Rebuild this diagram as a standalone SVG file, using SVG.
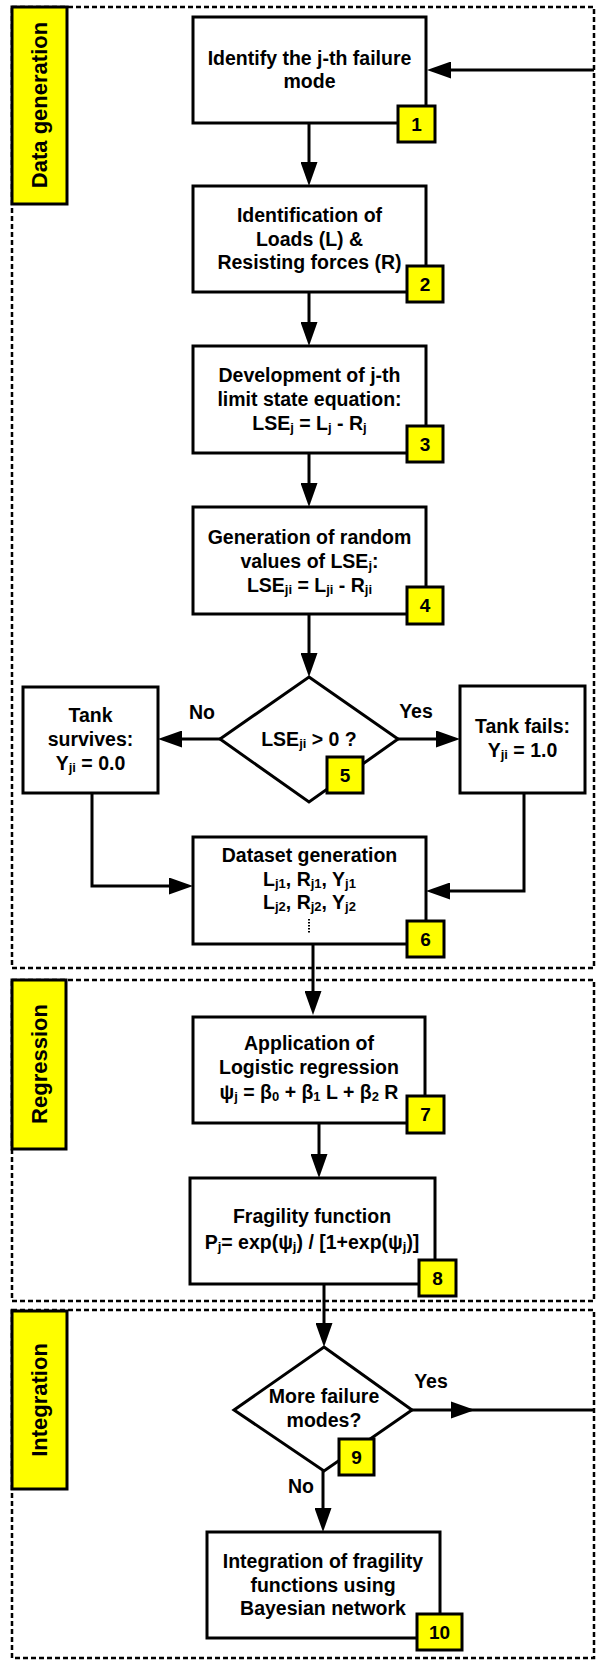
<svg xmlns="http://www.w3.org/2000/svg" width="597" height="1661" viewBox="0 0 597 1661">
<style>
.sec{fill:none;stroke:#000;stroke-width:2.5;stroke-dasharray:5 3}
.lab{fill:#ffff00;stroke:#000;stroke-width:3}
.labt{font-family:"Liberation Sans",Arial,sans-serif;font-weight:bold;font-size:22px;text-anchor:middle;fill:#000}
.box{fill:#fff;stroke:#000;stroke-width:3}
.t{font-family:"Liberation Sans",Arial,sans-serif;font-weight:bold;font-size:19.5px;text-anchor:middle;fill:#000}
.sub{font-size:13px}
.badge{fill:#ffff00;stroke:#000;stroke-width:3}
.bt{font-family:"Liberation Sans",Arial,sans-serif;font-weight:bold;font-size:19px;text-anchor:middle;fill:#000}
.c{fill:none;stroke:#000;stroke-width:3}
</style>
<defs>
<marker id="ah" markerUnits="userSpaceOnUse" markerWidth="24" markerHeight="17" refX="0" refY="8.5" orient="auto" viewBox="0 0 24 17">
<path d="M0,0 L24,8.5 L0,17 z" fill="#000"/>
</marker>
</defs>

<g id="sections">
<rect class="sec" x="12" y="7" width="582" height="961"/>
<rect class="sec" x="12" y="980" width="582" height="321"/>
<rect class="sec" x="12" y="1310" width="582" height="348"/>
</g>

<g id="label-data-generation">
<rect class="lab" x="12" y="7" width="55" height="197"/>
<text class="labt" transform="translate(47,105) rotate(-90)">Data generation</text>
</g>
<g id="label-regression">
<rect class="lab" x="12" y="980" width="54" height="169"/>
<text class="labt" transform="translate(47,1064) rotate(-90)">Regression</text>
</g>
<g id="label-integration">
<rect class="lab" x="12" y="1311" width="55" height="178"/>
<text class="labt" transform="translate(47,1400) rotate(-90)">Integration</text>
</g>

<g id="connectors">
<path class="c" d="M594,70 H451" marker-end="url(#ah)"/>
<path class="c" d="M309,123 V162" marker-end="url(#ah)"/>
<path class="c" d="M309,292 V322" marker-end="url(#ah)"/>
<path class="c" d="M309,453 V483" marker-end="url(#ah)"/>
<path class="c" d="M309,614 V653" marker-end="url(#ah)"/>
<path class="c" d="M220,739 H182" marker-end="url(#ah)"/>
<path class="c" d="M398,739 H436" marker-end="url(#ah)"/>
<path class="c" d="M92,793 V886 H169" marker-end="url(#ah)"/>
<path class="c" d="M524,793 V891 H450" marker-end="url(#ah)"/>
<path class="c" d="M313,944 V991" marker-end="url(#ah)"/>
<path class="c" d="M319,1123 V1154" marker-end="url(#ah)"/>
<path class="c" d="M324,1284 V1323" marker-end="url(#ah)"/>
<path class="c" d="M323,1471 V1508" marker-end="url(#ah)"/>
<path class="c" d="M412,1410 H594"/>
<path d="M451,1401.5 L475,1410 L451,1418.5 z" fill="#000"/>
<text class="t" x="202" y="719">No</text>
<text class="t" x="416" y="718">Yes</text>
<text class="t" x="431" y="1388">Yes</text>
<text class="t" x="301" y="1493">No</text>
</g>

<g id="node1">
<rect class="box" x="193" y="17" width="233" height="106"/>
<text class="t" x="309.5" y="65">Identify the j-th failure</text>
<text class="t" x="309.5" y="88">mode</text>
<rect class="badge" x="398" y="106" width="37" height="36"/>
<text class="bt" x="416.5" y="131">1</text>
</g>

<g id="node2">
<rect class="box" x="193" y="186" width="233" height="106"/>
<text class="t" x="309.5" y="222">Identification of</text>
<text class="t" x="309.5" y="246">Loads (L) &amp;</text>
<text class="t" x="309.5" y="269">Resisting forces (R)</text>
<rect class="badge" x="407" y="266" width="36" height="36"/>
<text class="bt" x="425" y="291">2</text>
</g>

<g id="node3">
<rect class="box" x="193" y="346" width="233" height="107"/>
<text class="t" x="309.5" y="382">Development of j-th</text>
<text class="t" x="309.5" y="406">limit state equation:</text>
<text class="t" x="309.5" y="430">LSE<tspan class="sub" baseline-shift="-2">j</tspan> = L<tspan class="sub" baseline-shift="-2">j</tspan> - R<tspan class="sub" baseline-shift="-2">j</tspan></text>
<rect class="badge" x="407" y="426" width="36" height="36"/>
<text class="bt" x="425" y="451">3</text>
</g>

<g id="node4">
<rect class="box" x="193" y="507" width="233" height="107"/>
<text class="t" x="309.5" y="544">Generation of random</text>
<text class="t" x="309.5" y="568">values of LSE<tspan class="sub" baseline-shift="-2">j</tspan>:</text>
<text class="t" x="309.5" y="592">LSE<tspan class="sub" baseline-shift="-2">ji</tspan> = L<tspan class="sub" baseline-shift="-2">ji</tspan> - R<tspan class="sub" baseline-shift="-2">ji</tspan></text>
<rect class="badge" x="407" y="587" width="36" height="37"/>
<text class="bt" x="425" y="612">4</text>
</g>

<g id="node5">
<path class="box" d="M309,677 L398,739 L309,802 L220,739 z"/>
<text class="t" x="309" y="746">LSE<tspan class="sub" baseline-shift="-2">ji</tspan> &gt; 0 ?</text>
<rect class="badge" x="327" y="757" width="36" height="36"/>
<text class="bt" x="345" y="782">5</text>
</g>

<g id="node-survives">
<rect class="box" x="23" y="687" width="135" height="106"/>
<text class="t" x="90.5" y="722">Tank</text>
<text class="t" x="90.5" y="746">survives:</text>
<text class="t" x="90.5" y="770">Y<tspan class="sub" baseline-shift="-2">ji</tspan> = 0.0</text>
</g>

<g id="node-fails">
<rect class="box" x="460" y="686" width="125" height="107"/>
<text class="t" x="522.5" y="733">Tank fails:</text>
<text class="t" x="522.5" y="757">Y<tspan class="sub" baseline-shift="-2">ji</tspan> = 1.0</text>
</g>

<g id="node6">
<rect class="box" x="193" y="837" width="233" height="107"/>
<text class="t" x="309.5" y="862">Dataset generation</text>
<text class="t" x="309.5" y="886">L<tspan class="sub" baseline-shift="-2">j1</tspan>, R<tspan class="sub" baseline-shift="-2">j1</tspan>, Y<tspan class="sub" baseline-shift="-2">j1</tspan></text>
<text class="t" x="309.5" y="909">L<tspan class="sub" baseline-shift="-2">j2</tspan>, R<tspan class="sub" baseline-shift="-2">j2</tspan>, Y<tspan class="sub" baseline-shift="-2">j2</tspan></text>
<line x1="309" y1="919" x2="309" y2="934" stroke="#000" stroke-width="2" stroke-dasharray="1.5 1.5"/>
<rect class="badge" x="407" y="921" width="37" height="36"/>
<text class="bt" x="425.5" y="946">6</text>
</g>

<g id="node7">
<rect class="box" x="193" y="1017" width="232" height="106"/>
<text class="t" x="309" y="1050">Application of</text>
<text class="t" x="309" y="1074">Logistic regression</text>
<text class="t" x="309" y="1099">ψ<tspan class="sub" baseline-shift="-2">j</tspan> = β<tspan class="sub" baseline-shift="-2">0</tspan> + β<tspan class="sub" baseline-shift="-2">1</tspan> L + β<tspan class="sub" baseline-shift="-2">2</tspan> R</text>
<rect class="badge" x="407" y="1096" width="37" height="37"/>
<text class="bt" x="425.5" y="1121">7</text>
</g>

<g id="node8">
<rect class="box" x="190" y="1178" width="245" height="106"/>
<text class="t" x="312" y="1223">Fragility function</text>
<text class="t" x="312" y="1249">P<tspan class="sub" baseline-shift="-2">j</tspan>= exp(ψ<tspan class="sub" baseline-shift="-2">j</tspan>) / [1+exp(ψ<tspan class="sub" baseline-shift="-2">j</tspan>)]</text>
<rect class="badge" x="419" y="1260" width="37" height="36"/>
<text class="bt" x="437.5" y="1285">8</text>
</g>

<g id="node9">
<path class="box" d="M324,1347 L412,1410 L324,1471 L234,1410 z"/>
<text class="t" x="324" y="1403">More failure</text>
<text class="t" x="324" y="1427">modes?</text>
<rect class="badge" x="339" y="1439" width="35" height="36"/>
<text class="bt" x="356.5" y="1464">9</text>
</g>

<g id="node10">
<rect class="box" x="207" y="1532" width="233" height="106"/>
<text class="t" x="323" y="1568">Integration of fragility</text>
<text class="t" x="323" y="1592">functions using</text>
<text class="t" x="323" y="1615">Bayesian network</text>
<rect class="badge" x="417" y="1614" width="45" height="36"/>
<text class="bt" x="439.5" y="1639">10</text>
</g>
</svg>
